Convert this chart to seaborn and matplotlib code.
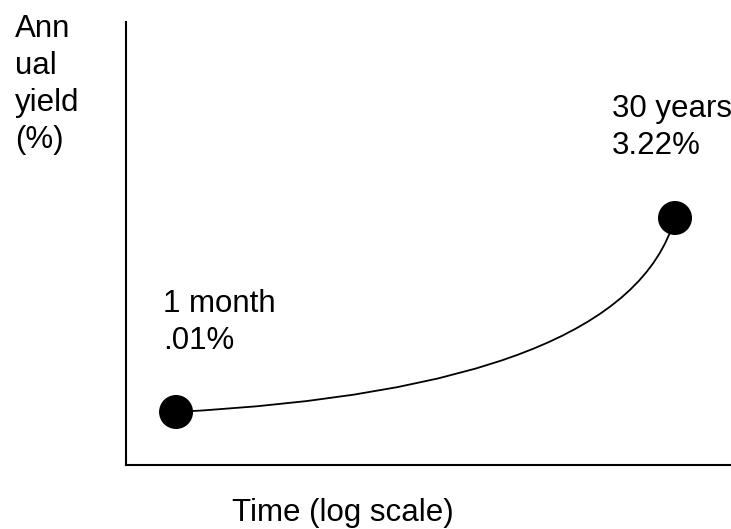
import pandas as pd
import seaborn as sns
import matplotlib.pyplot as plt
from matplotlib.patches import FancyArrowPatch

# yield curve end points
maturity_months = [1, 360]
yield_pct = [0.01, 3.22]
point_labels = ["1 month\n.01%", "30 years\n3.22%"]

df = pd.DataFrame({'maturity': maturity_months, 'yield': yield_pct})

sns.set_style("white")
plt.rcParams['font.family'] = ['Liberation Sans', 'DejaVu Sans']
plt.rcParams['text.color'] = 'black'
plt.rcParams['axes.labelcolor'] = 'black'

fig = plt.figure(figsize=(7.31, 5.29), dpi=100)
ax = fig.add_axes([126 / 731, 64 / 529, 605 / 731, 443 / 529])
ax.set_xscale('log')
ax.set_xlim(0.554, 697)
ax.set_ylim(-0.867, 6.463)

# smooth connector between the two points
curve = FancyArrowPatch((maturity_months[0], yield_pct[0]),
                        (maturity_months[1], yield_pct[1]),
                        connectionstyle="angle3,angleA=3,angleB=74",
                        arrowstyle='-', lw=1.3, color='black',
                        shrinkA=0, shrinkB=0, zorder=2)
ax.add_patch(curve)

sns.scatterplot(data=df, x='maturity', y='yield', s=600, color='black',
                edgecolor='none', zorder=3, ax=ax, legend=False)

offsets = [(-13, 123), (-63, 124)]
for m, y, lab, off in zip(maturity_months, yield_pct, point_labels, offsets):
    ax.annotate(lab, (m, y), xytext=off, textcoords='offset pixels',
                ha='left', va='top', fontsize=22.5, linespacing=1.3,
                color='black', annotation_clip=False)

ax.set_ylabel("Ann\nual\nyield\n(%)", rotation=0, ha='left', va='top',
              fontsize=22.5, linespacing=1.3)
ax.yaxis.set_label_coords(-0.1835, 1.018)
ax.set_xlabel("Time (log scale)", ha='left', va='top', fontsize=22.5)
ax.xaxis.set_label_coords(0.1752, -0.074)

ax.tick_params(which='both', bottom=False, left=False,
               labelbottom=False, labelleft=False)
sns.despine(ax=ax)
for side in ['left', 'bottom']:
    ax.spines[side].set_linewidth(1.5)
    ax.spines[side].set_color('black')

fig.savefig('out.png', dpi=100)
